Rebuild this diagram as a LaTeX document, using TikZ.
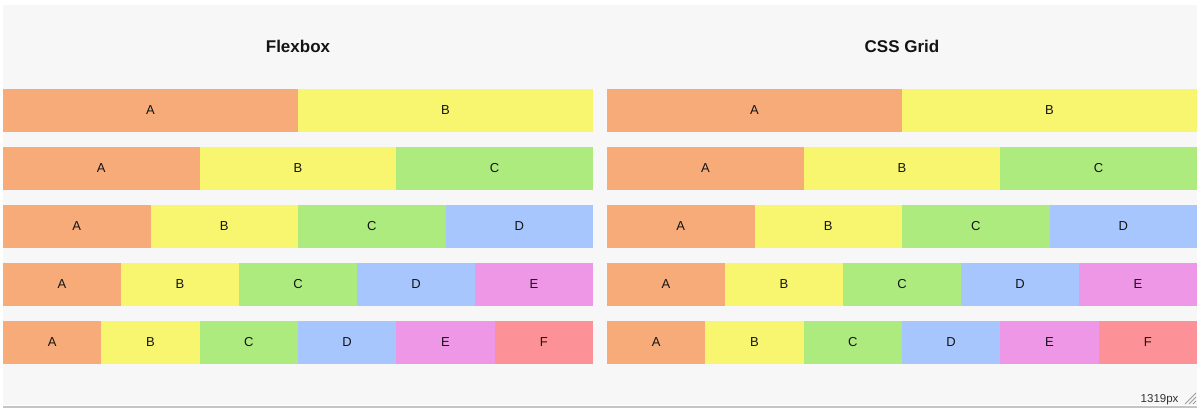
\documentclass[tikz,border=0pt]{standalone}
\usepackage{fontspec}
\setmainfont{Liberation Sans}
\usetikzlibrary{positioning}

\definecolor{cellA}{HTML}{F6AB78}
\definecolor{cellB}{HTML}{F8F56E}
\definecolor{cellC}{HTML}{AEEB7F}
\definecolor{cellD}{HTML}{A7C6FD}
\definecolor{cellE}{HTML}{EE97E6}
\definecolor{cellF}{HTML}{FC9297}
\definecolor{pagebg}{HTML}{F7F7F7}
\definecolor{edgegray}{HTML}{C4C4C4}
\definecolor{inktext}{HTML}{141414}

\begin{document}
\begin{tikzpicture}[
    x=1pt, y=-1pt, text=inktext,
    title/.style={font=\bfseries\fontsize{17}{17}\selectfont},
    cell/.style={fill=cell#1, inner sep=0pt, outer sep=0pt, anchor=north west,
      minimum height=43pt, font=\fontsize{13}{13}\selectfont},
    grip/.style={draw=edgegray!80!black, line width=.8pt}]
  \useasboundingbox (0,0) rectangle (1200,414);
  \fill[pagebg] (3,5) rectangle (1197,405);
  \fill[edgegray] (3,405.5) rectangle (1197,408);

  \node[title] (title-flex) at (298,46) {Flexbox};
  \node[title] (title-grid) at (902,46) {CSS Grid};

  % one row per number of items, both panels alike
  \foreach \p/\x in {flex/3, grid/607}
  \foreach \n[evaluate={\w=590/\n}, evaluate={\y=89+58*(\n-2)}] in {2,...,6}
  \foreach \i in {1,...,\n} {
    \pgfmathsetmacro\lbl{{"A","B","C","D","E","F"}[\i-1]}
    \node[cell=\lbl, minimum width=\w pt] (\p-\n-\i)
      at ({\x+(\i-1)*\w},\y) {\lbl};
  }

  \node[font=\fontsize{11.5}{11.5}\selectfont, text=black!80, anchor=east]
    (width-label) at (1182,400) {1319px};
  \draw[grip] (1185,404) -- (1196,393) (1189,404) -- (1196,397) (1193,404) -- (1196,401);
\end{tikzpicture}
\end{document}
